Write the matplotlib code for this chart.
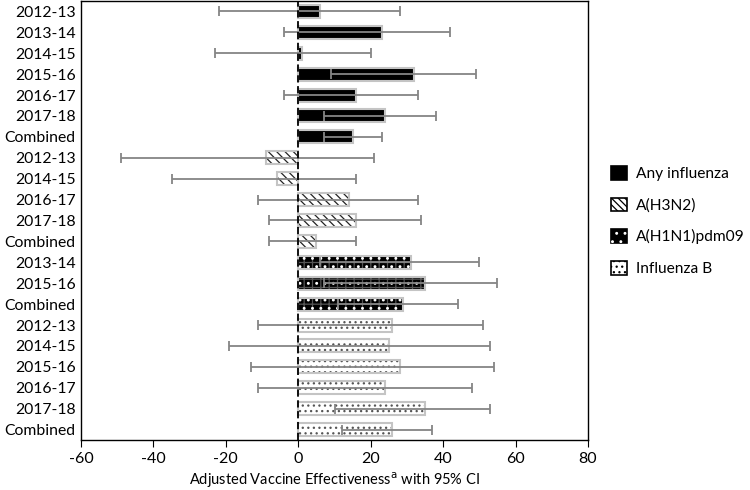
import matplotlib
matplotlib.use("Agg")
import matplotlib.pyplot as plt
from matplotlib.patches import Patch
from matplotlib.legend_handler import HandlerTuple
import numpy as np

plt.rcParams['font.family'] = ['Lato', 'DejaVu Sans']
plt.rcParams['hatch.linewidth'] = 0.9
plt.rcParams['axes.unicode_minus'] = False

labels = ["2012-13", "2013-14", "2014-15", "2015-16", "2016-17", "2017-18", "Combined",
          "2012-13", "2014-15", "2016-17", "2017-18", "Combined",
          "2013-14", "2015-16", "Combined",
          "2012-13", "2014-15", "2015-16", "2016-17", "2017-18", "Combined"]
groups = ["any"] * 7 + ["h3n2"] * 5 + ["h1n1"] * 3 + ["b"] * 6
ve = [6, 23, 1, 32, 16, 24, 15,
      -9, -6, 14, 16, 5,
      31, 35, 29,
      26, 25, 28, 24, 35, 26]
lo = [-22, -4, -23, 9, -4, 7, 7,
      -49, -35, -11, -8, -8,
      6, 7, 11,
      -11, -19, -13, -11, 10, 12]
hi = [28, 42, 20, 49, 33, 38, 23,
      21, 16, 33, 34, 16,
      50, 55, 44,
      51, 53, 54, 48, 53, 37]

# layers: (facecolor or None, hatch color, hatch)
styles = {
    "any": [("black", "black", None)],
    "h3n2": [("white", "#222222", "\\\\\\\\")],
    "h1n1": [("black", "#555555", "++"), (None, "white", "..")],
    "b": [("white", "#555555", "...")],
}
legend_names = {"any": "Any influenza", "h3n2": "A(H3N2)", "h1n1": "A(H1N1)pdm09", "b": "Influenza B"}

fig = plt.figure(figsize=(7.5, 4.9), dpi=100)
ax = fig.add_axes([0.108, 0.102, 0.676, 0.896])

y = np.arange(len(labels))
for i in range(len(labels)):
    for face, hc, hatch in styles[groups[i]]:
        if face is None:
            ax.barh(y[i], ve[i], height=0.62, fill=False, edgecolor=hc,
                    hatch=hatch, linewidth=0, zorder=2.5)
        else:
            ax.barh(y[i], ve[i], height=0.62, color=face, edgecolor=hc,
                    hatch=hatch, linewidth=0, zorder=2)
    ax.barh(y[i], ve[i], height=0.62, fill=False, edgecolor="#c4c4c4", linewidth=1.5, zorder=3)

xerr = np.array([np.array(ve) - np.array(lo), np.array(hi) - np.array(ve)])
ax.errorbar(ve, y, xerr=xerr, fmt="none", ecolor="#858585", elinewidth=1.3,
            capsize=3.5, capthick=1.3, zorder=4)

ax.axvline(0, color="black", linestyle=(0, (4, 2)), linewidth=1.3, zorder=5)

ax.set_xlim(-60, 80)
ax.set_ylim(20.5, -0.5)
ax.set_xticks(np.arange(-60, 81, 20))
ax.set_yticks(y)
ax.set_yticklabels(labels, fontsize=11.3)
ax.tick_params(axis="y", length=0, pad=4)
ax.tick_params(axis="x", labelsize=11.5, length=5, direction="out")
for sp in ax.spines.values():
    sp.set_linewidth(1.0)
    sp.set_color("black")
ax.set_xlabel("Adjusted Vaccine Effectiveness$^{\\mathrm{a}}$ with 95% CI", fontsize=10.5, labelpad=3)

handles = [
    Patch(facecolor="black", edgecolor="black", linewidth=1.2),
    Patch(facecolor="white", edgecolor="black", hatch="\\\\\\\\\\", linewidth=1.2),
    (Patch(facecolor="black", edgecolor="black", linewidth=1.2),
     Patch(fill=False, edgecolor="white", hatch="..", linewidth=0)),
    Patch(facecolor="white", edgecolor="black", hatch="...", linewidth=1.2),
]
names = [legend_names[g] for g in ["any", "h3n2", "h1n1", "b"]]
leg = fig.legend(handles=handles, labels=names, loc="upper left", bbox_to_anchor=(0.796, 0.69),
                 frameon=False, fontsize=11.2, labelspacing=1.05, handlelength=1.0,
                 handleheight=1.0, handletextpad=0.6,
                 handler_map={tuple: HandlerTuple(ndivide=1, pad=0)})

fig.savefig("out.png", dpi=100)
